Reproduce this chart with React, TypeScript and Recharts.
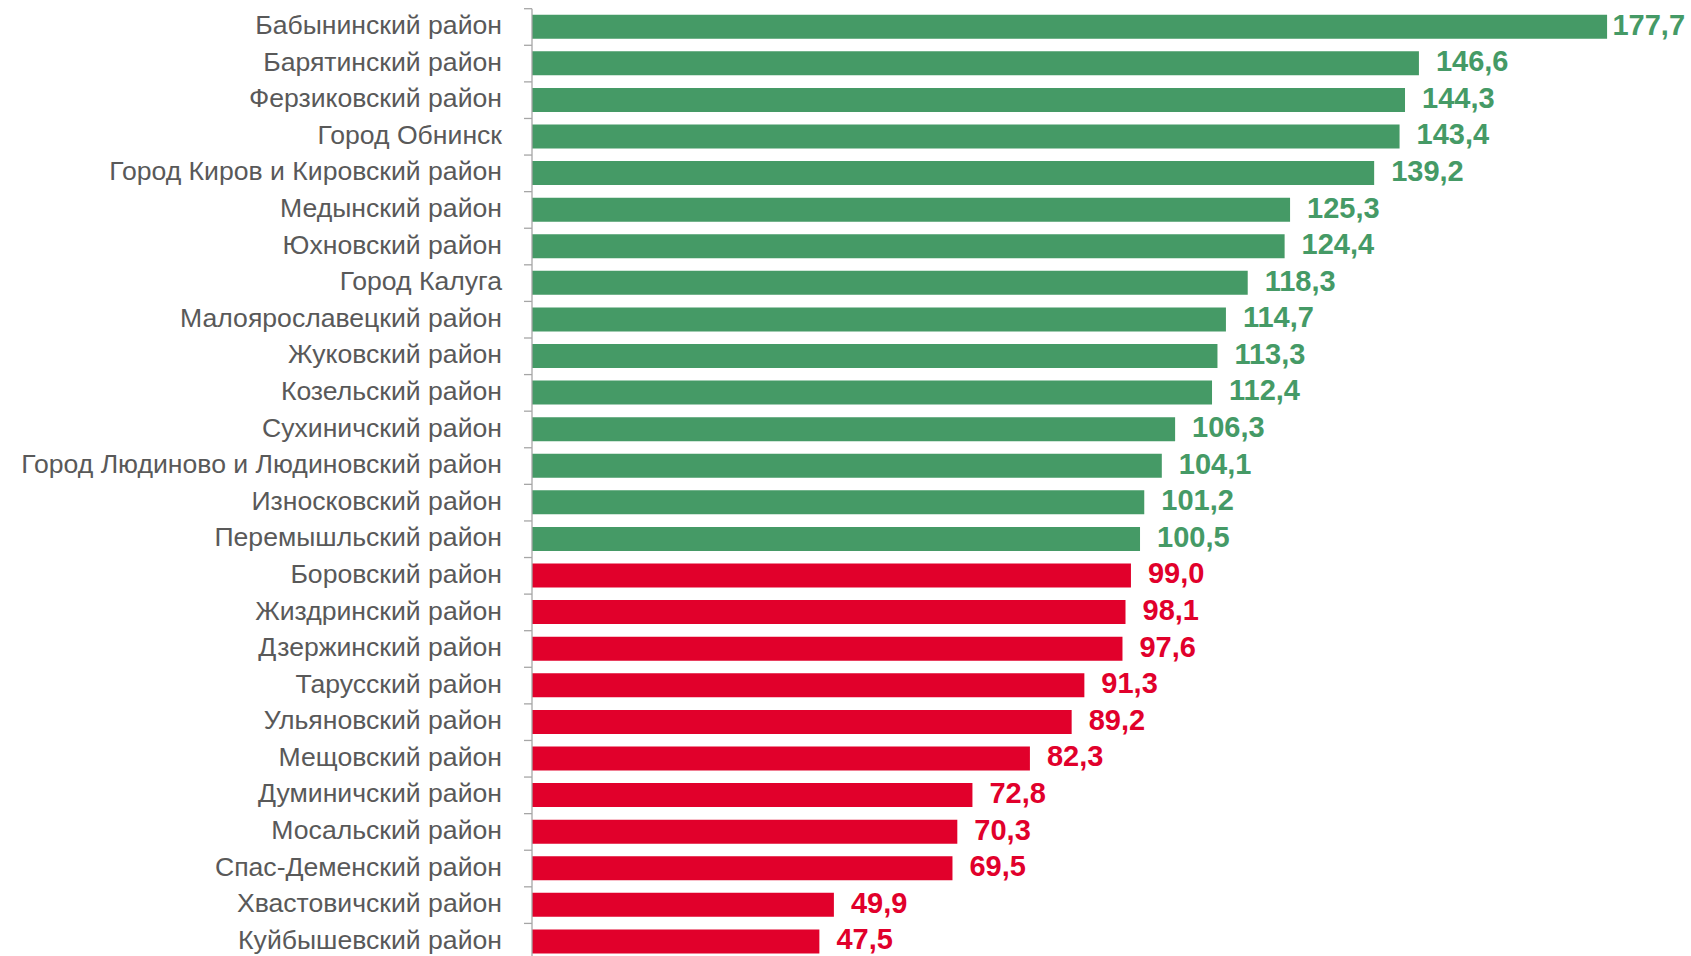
import { Bar, BarChart, Cell, LabelList, XAxis, YAxis } from "recharts";

const districts = [
  "Бабынинский район",
  "Барятинский район",
  "Ферзиковский район",
  "Город Обнинск",
  "Город Киров и Кировский район",
  "Медынский район",
  "Юхновский район",
  "Город Калуга",
  "Малоярославецкий район",
  "Жуковский район",
  "Козельский район",
  "Сухиничский район",
  "Город Людиново и Людиновский район",
  "Износковский район",
  "Перемышльский район",
  "Боровский район",
  "Жиздринский район",
  "Дзержинский район",
  "Тарусский район",
  "Ульяновский район",
  "Мещовский район",
  "Думиничский район",
  "Мосальский район",
  "Спас-Деменский район",
  "Хвастовичский район",
  "Куйбышевский район",
];

const values = [
  177.7, 146.6, 144.3, 143.4, 139.2, 125.3, 124.4, 118.3, 114.7, 113.3, 112.4,
  106.3, 104.1, 101.2, 100.5, 99.0, 98.1, 97.6, 91.3, 89.2, 82.3, 72.8, 70.3,
  69.5, 49.9, 47.5,
];

const THRESHOLD = 100;

const GREEN = "#459A66";
const RED = "#E1002B";
const AXIS = "#A6A6A6";
const TEXT = "#595959";

const W = 1691;
const H = 960;
const TOP = 8.7;
const AXIS_X = 532;
const BAND = (H - TOP) / districts.length;
const LABEL_FS = 26.6;
const VALUE_FS = 29;

const data = districts.map((name, i) => ({ name, value: values[i] }));

const fmt = (v: number) => v.toFixed(1).replace(".", ",");
const colorOf = (v: number) => (v >= THRESHOLD ? GREEN : RED);

function DistrictTick({ x, y, payload }: any) {
  const edge = y - BAND / 2;
  return (
    <g>
      <line x1={AXIS_X - 8} x2={AXIS_X} y1={edge} y2={edge} stroke={AXIS} strokeWidth={1.3} />
      <text
        x={x}
        y={y + 0.358 * LABEL_FS - 2.4}
        textAnchor="end"
        fontSize={LABEL_FS}
        fill={TEXT}
        fontFamily="'Liberation Sans', Arial, sans-serif"
      >
        {payload.value}
      </text>
    </g>
  );
}

function ValueLabel({ x, y, width, height, value }: any) {
  const s = fmt(value);
  const textW = VALUE_FS * (0.556 * (s.length - 1) + 0.278);
  const tx = Math.min(x + width + 17, W - 6 - textW);
  return (
    <text
      x={tx}
      y={y + height / 2 + 0.358 * VALUE_FS - 2.5}
      fontSize={VALUE_FS}
      fontWeight="bold"
      fill={colorOf(value)}
      fontFamily="'Liberation Sans', Arial, sans-serif"
    >
      {s}
    </text>
  );
}

export default function App() {
  return (
    <div style={{ width: W, height: 956, overflow: "hidden" }}>
      <style>{`body{margin:0;overflow:hidden}`}</style>
      <BarChart
        width={W}
        height={H}
        data={data}
        layout="vertical"
        margin={{ top: TOP, right: 9.5, bottom: 0, left: 0 }}
        barSize={24}
      >
        <XAxis type="number" domain={[0, 190]} hide />
        <YAxis
          type="category"
          dataKey="name"
          width={AXIS_X}
          interval={0}
          tickSize={8}
          tickMargin={22}
          tickLine={false}
          axisLine={{ stroke: AXIS, strokeWidth: 1.3 }}
          tick={<DistrictTick />}
        />
        <Bar dataKey="value" isAnimationActive={false}>
          {data.map((d) => (
            <Cell key={d.name} fill={colorOf(d.value)} />
          ))}
          <LabelList dataKey="value" content={<ValueLabel />} />
        </Bar>
      </BarChart>
    </div>
  );
}
